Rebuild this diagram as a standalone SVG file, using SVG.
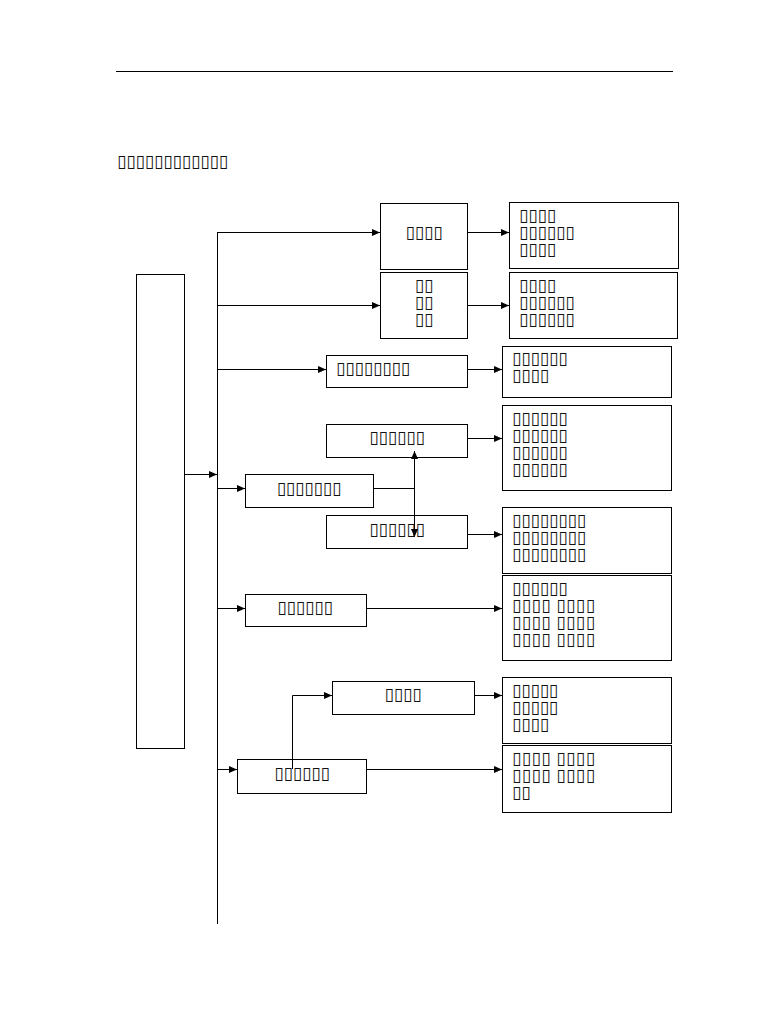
<svg xmlns="http://www.w3.org/2000/svg" width="768" height="1024" viewBox="0 0 768 1024">
<defs>
<marker id="arr" markerWidth="8" markerHeight="8" refX="8" refY="4" orient="auto" markerUnits="userSpaceOnUse"><path d="M0,0.5 L8,4 L0,7.5 Z" fill="#000"/></marker>
<style>
rect{fill:#fff;stroke:#000;stroke-width:1}
line,polyline{stroke:#000;stroke-width:1;fill:none}
text{font-family:"Liberation Sans","DejaVu Sans",sans-serif;font-size:17px;fill:#111;dominant-baseline:central}
.c{text-anchor:middle}
</style>
</defs>
<rect width="768" height="1024" style="stroke:none"/>
<line x1="116" y1="71.5" x2="673" y2="71.5"/>
<text x="117" y="161" textLength="111" lengthAdjust="spacing">▯▯▯▯▯▯▯▯▯▯▯▯</text>
<g id="n0"><rect x="136.5" y="274.5" width="48" height="474"/></g>
<g id="n1"><rect x="380.5" y="203.5" width="87" height="66"/><text class="c" x="424" y="232" textLength="37">▯▯▯▯</text></g>
<g id="n1r"><rect x="509.5" y="202.5" width="169" height="66"/><text x="519" y="215" textLength="37">▯▯▯▯</text><text x="519" y="232" textLength="55.5">▯▯▯▯▯▯</text><text x="519" y="249" textLength="37">▯▯▯▯</text></g>
<g id="n2"><rect x="380.5" y="272.5" width="87" height="66"/><text class="c" x="424" y="285" textLength="18.5">▯▯</text><text class="c" x="424" y="302" textLength="18.5">▯▯</text><text class="c" x="424" y="319" textLength="18.5">▯▯</text></g>
<g id="n2r"><rect x="509.5" y="272.5" width="168" height="66"/><text x="519" y="285" textLength="37">▯▯▯▯</text><text x="519" y="302" textLength="55.5">▯▯▯▯▯▯</text><text x="519" y="319" textLength="55.5">▯▯▯▯▯▯</text></g>
<g id="n3"><rect x="326.5" y="355.5" width="141" height="32"/><text x="336" y="368" textLength="74">▯▯▯▯▯▯▯▯</text></g>
<g id="n3r"><rect x="502.5" y="346.5" width="169" height="51"/><text x="512" y="358" textLength="55.5">▯▯▯▯▯▯</text><text x="512" y="375" textLength="37">▯▯▯▯</text></g>
<g id="n4"><rect x="326.5" y="424.5" width="141" height="33"/><text class="c" x="397" y="437" textLength="55.5">▯▯▯▯▯▯</text></g>
<g id="n4r"><rect x="502.5" y="405.5" width="169" height="85"/><text x="512" y="418" textLength="55.5">▯▯▯▯▯▯</text><text x="512" y="435" textLength="55.5">▯▯▯▯▯▯</text><text x="512" y="452" textLength="55.5">▯▯▯▯▯▯</text><text x="512" y="469" textLength="55.5">▯▯▯▯▯▯</text></g>
<g id="n5"><rect x="245.5" y="474.5" width="128" height="33"/><text class="c" x="309" y="488" textLength="64.7">▯▯▯▯▯▯▯</text></g>
<g id="n6"><rect x="326.5" y="515.5" width="141" height="33"/><text class="c" x="397" y="529" textLength="55.5">▯▯▯▯▯▯</text></g>
<g id="n6r"><rect x="502.5" y="507.5" width="169" height="66"/><text x="512" y="520" textLength="74">▯▯▯▯▯▯▯▯</text><text x="512" y="537" textLength="74">▯▯▯▯▯▯▯▯</text><text x="512" y="554" textLength="74">▯▯▯▯▯▯▯▯</text></g>
<g id="n7"><rect x="245.5" y="594.5" width="121" height="32"/><text class="c" x="305" y="607" textLength="55.5">▯▯▯▯▯▯</text></g>
<g id="n7r"><rect x="502.5" y="575.5" width="169" height="85"/><text x="512" y="588" textLength="55.5">▯▯▯▯▯▯</text><text x="512" y="605" textLength="83">▯▯▯▯ ▯▯▯▯</text><text x="512" y="622" textLength="83">▯▯▯▯ ▯▯▯▯</text><text x="512" y="639" textLength="83">▯▯▯▯ ▯▯▯▯</text></g>
<g id="n8"><rect x="332.5" y="681.5" width="142" height="33"/><text class="c" x="403" y="694" textLength="37">▯▯▯▯</text></g>
<g id="n8r"><rect x="502.5" y="677.5" width="169" height="66"/><text x="512" y="690" textLength="46.2">▯▯▯▯▯</text><text x="512" y="707" textLength="46.2">▯▯▯▯▯</text><text x="512" y="724" textLength="37">▯▯▯▯</text></g>
<g id="n9"><rect x="237.5" y="759.5" width="129" height="34"/><text class="c" x="302" y="773" textLength="55.5">▯▯▯▯▯▯</text></g>
<g id="n9r"><rect x="502.5" y="745.5" width="169" height="67"/><text x="512" y="758" textLength="83">▯▯▯▯ ▯▯▯▯</text><text x="512" y="775" textLength="83">▯▯▯▯ ▯▯▯▯</text><text x="512" y="792" textLength="18.5">▯▯</text></g>
<g id="connectors">
<line x1="184" y1="474.5" x2="217" y2="474.5" marker-end="url(#arr)"/>
<line x1="217.5" y1="232" x2="217.5" y2="924"/>
<line x1="217" y1="232.5" x2="380" y2="232.5" marker-end="url(#arr)"/>
<line x1="467" y1="232.5" x2="509" y2="232.5" marker-end="url(#arr)"/>
<line x1="217" y1="305.5" x2="380" y2="305.5" marker-end="url(#arr)"/>
<line x1="467" y1="305.5" x2="509" y2="305.5" marker-end="url(#arr)"/>
<line x1="217" y1="369.5" x2="326" y2="369.5" marker-end="url(#arr)"/>
<line x1="467" y1="369.5" x2="502" y2="369.5" marker-end="url(#arr)"/>
<line x1="467" y1="438.5" x2="502" y2="438.5" marker-end="url(#arr)"/>
<line x1="217" y1="488.5" x2="245" y2="488.5" marker-end="url(#arr)"/>
<line x1="373" y1="488.5" x2="414" y2="488.5"/>
<line x1="414.5" y1="488" x2="414.5" y2="451" marker-end="url(#arr)"/>
<line x1="414.5" y1="488" x2="414.5" y2="537" marker-end="url(#arr)"/>
<line x1="467" y1="534.5" x2="502" y2="534.5" marker-end="url(#arr)"/>
<line x1="217" y1="608.5" x2="245" y2="608.5" marker-end="url(#arr)"/>
<line x1="366" y1="608.5" x2="502" y2="608.5" marker-end="url(#arr)"/>
<line x1="474" y1="695.5" x2="502" y2="695.5" marker-end="url(#arr)"/>
<line x1="217" y1="769.5" x2="237" y2="769.5" marker-end="url(#arr)"/>
<polyline points="292.5,769 292.5,695.5 332,695.5" marker-end="url(#arr)"/>
<line x1="366" y1="769.5" x2="502" y2="769.5" marker-end="url(#arr)"/>
</g>
</svg>
